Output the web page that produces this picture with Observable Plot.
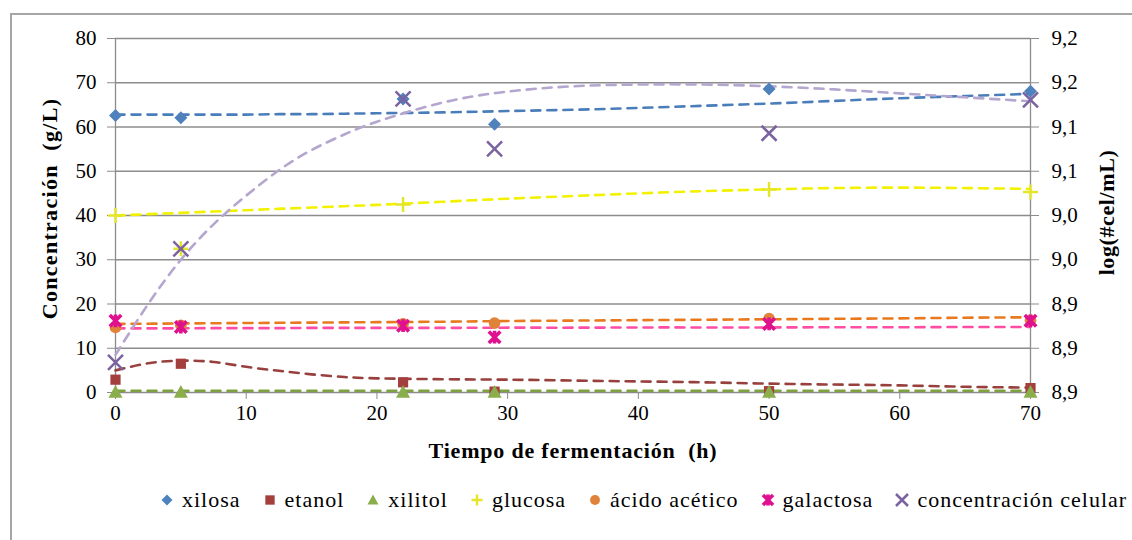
<!DOCTYPE html>
<html><head><meta charset="utf-8">
<script src="https://cdn.jsdelivr.net/npm/d3@7"></script>
<script src="https://cdn.jsdelivr.net/npm/@observablehq/plot@0.6"></script>
<style>
body{margin:0;background:#fff;font-family:"Liberation Serif","Times New Roman",Tinos,"DejaVu Serif",serif;}
#wrap{position:relative;width:1132px;height:540px;overflow:hidden;background:#fff;}
#frame{position:absolute;left:10px;top:13px;width:1300px;height:700px;border-top:2px solid #a6a6a6;border-left:2px solid #a6a6a6;}
#chart{position:absolute;left:0;top:0;}
#legend{position:absolute;top:487px;left:158px;display:flex;align-items:center;font-size:22px;letter-spacing:1px;color:#000;white-space:nowrap;}
#legend .it{display:flex;align-items:center;margin-right:20px;}
#legend svg{margin-right:6px;}
</style>
</head><body>
<div id="wrap"><div id="frame"></div><div id="chart"></div><div id="legend"></div></div>
<script>
const hours = [0, 5, 22, 29, 50, 70];
const xilosa = [62.6, 62.1, 66.3, 60.6, 68.6, 68.1];
const etanol = [2.9, 6.5, 2.3, 0.2, 0.3, 1.0];
const xilitol = [0.1, 0.1, 0.1, 0.1, 0.1, 0.1];
const glucosa = [40.0, 32.5, 42.5, null, 45.9, 45.3];
const acidoAcetico = [14.7, 15.2, 15.5, 15.7, 16.7, 16.3];
const galactosa = [16.2, 14.8, 15.1, 12.5, 15.5, 16.2];
const celular = [8.889, 8.998, 9.142, 9.094, 9.109, 9.141]; // log(#cel/mL), right axis

// ---- dashed trend lines ----
const trendHours = [0, 2.5, 5, 7.5, 10, 12.5, 15, 17.5, 20, 25, 30, 35, 40, 45, 50, 55, 60, 65, 70];
const xilosaTrend = [62.8, 62.8, 62.8, 62.8, 62.8, 62.9, 62.9, 63.0, 63.1, 63.3, 63.6, 63.9, 64.3, 64.8, 65.3, 65.9, 66.5, 67.0, 67.5];
const etanolTrend = [5.0, 6.6, 7.2, 6.9, 5.8, 4.9, 4.1, 3.5, 3.2, 3.0, 2.9, 2.7, 2.5, 2.3, 2.0, 1.8, 1.6, 1.3, 1.1];
const xilitolTrend = [0.4, 0.4, 0.4, 0.4, 0.4, 0.4, 0.4, 0.4, 0.4, 0.4, 0.4, 0.4, 0.4, 0.4, 0.4, 0.4, 0.4, 0.4, 0.4];
const glucosaTrend = [40.0, 40.3, 40.6, 40.9, 41.2, 41.5, 41.8, 42.1, 42.4, 43.1, 43.8, 44.4, 45.0, 45.5, 45.9, 46.2, 46.3, 46.2, 46.0];
const acidoAceticoTrend = [15.5, 15.55, 15.6, 15.65, 15.7, 15.75, 15.8, 15.85, 15.9, 16.0, 16.15, 16.25, 16.35, 16.45, 16.55, 16.65, 16.75, 16.9, 17.0];
const galactosaTrend = [14.5, 14.5, 14.5, 14.55, 14.55, 14.55, 14.6, 14.6, 14.6, 14.6, 14.65, 14.65, 14.7, 14.7, 14.7, 14.75, 14.75, 14.8, 14.8];
const celularTrend = [8.8961, 8.945, 8.9875, 9.0215, 9.0491, 9.0734, 9.0929, 9.1078, 9.1201, 9.1384, 9.149, 9.1541, 9.1558, 9.1558, 9.1541, 9.1511, 9.1473, 9.1435, 9.1397];

const seriesNames = ["xilosa", "etanol", "xilitol", "glucosa", "ácido acético", "galactosa", "concentración celular"];
const xTicks = [0, 10, 20, 30, 40, 50, 60, 70];
const yTicks = [0, 10, 20, 30, 40, 50, 60, 70, 80];
const rightTickLabels = ["8,9", "8,9", "8,9", "9,0", "9,0", "9,1", "9,1", "9,2", "9,2"];
const rightDomain = [8.86, 9.20];

// ---- styles ----
const markerColors = ["#4F81BD", "#A33F3C", "#8AAE4C", "#E5E52A", "#E0823A", "#E0118F", "#7B62A0"];
const lineColors = ["#4A7EBB", "#98403D", "#7FA140", "#F2F200", "#E8791E", "#FF4DA6", "#B5A6CF"];
const FONT = '"Liberation Serif","Times New Roman",Tinos,"DejaVu Serif",serif';

// right-axis values are placed on the left-axis (0–80) scale
const toLeft = v => (v - rightDomain[0]) / (rightDomain[1] - rightDomain[0]) * 80;

const allValues = [xilosa, etanol, xilitol, glucosa, acidoAcetico, galactosa, celular.map(toLeft)];
const allTrends = [xilosaTrend, etanolTrend, xilitolTrend, glucosaTrend, acidoAceticoTrend, galactosaTrend, celularTrend.map(toLeft)];
const points = [];
allValues.forEach((vals, s) => vals.forEach((v, i) => { if (v != null) points.push({series: s, x: hours[i], y: v}); }));
const trends = [];
allTrends.forEach((vals, s) => vals.forEach((v, i) => trends.push({series: s, x: trendHours[i], y: v})));

// ---- custom marker shapes ----
function sym(draw) { return {draw(ctx, size) { draw(ctx, Math.sqrt(size / Math.PI)); }}; }
const symbols = [
  sym((c, r) => { c.moveTo(0, -r); c.lineTo(r, 0); c.lineTo(0, r); c.lineTo(-r, 0); c.closePath(); }),
  sym((c, r) => { c.rect(-r * 0.85, -r * 0.85, r * 1.7, r * 1.7); }),
  sym((c, r) => { c.moveTo(0, -r); c.lineTo(r, r * 0.8); c.lineTo(-r, r * 0.8); c.closePath(); }),
  sym((c, r) => { c.moveTo(-r, 0); c.lineTo(r, 0); c.moveTo(0, -r); c.lineTo(0, r); }),
  sym((c, r) => { c.moveTo(r * 0.9, 0); c.arc(0, 0, r * 0.9, 0, 2 * Math.PI); }),
  sym((c, r) => { const a = r * 0.72; c.moveTo(-a, -a); c.lineTo(a, a); c.moveTo(a, -a); c.lineTo(-a, a); c.moveTo(0, -r * 0.8); c.lineTo(0, r * 0.8); }),
  sym((c, r) => { const a = r * 0.75; c.moveTo(-a, -a); c.lineTo(a, a); c.moveTo(a, -a); c.lineTo(-a, a); })
];
const filled = [true, true, true, false, true, false, false];
const sizes = [6.5, 6, 7, 7.5, 6.5, 8, 10];
const strokeW = [0, 0, 0, 2.5, 0, 3.6, 2.5];

const marks = [
  Plot.gridY(yTicks, {stroke: "#8c8c8c", strokeOpacity: 1, strokeWidth: 1.3}),
  Plot.ruleX([0, 70], {stroke: "#8c8c8c", strokeWidth: 1.3}),
  Plot.axisY(yTicks, {anchor: "left", tickSize: 8, tickPadding: 11, label: null, stroke: "#8c8c8c", fontSize: 21}),
  Plot.axisY(yTicks, {anchor: "right", tickSize: 8, tickPadding: 13, label: null, stroke: "#8c8c8c", fontSize: 21,
    tickFormat: d => rightTickLabels[yTicks.indexOf(d)]}),
  Plot.axisX(xTicks, {anchor: "bottom", tickSize: 7, tickPadding: 6, label: null, stroke: "#8c8c8c", fontSize: 21}),
  Plot.text(["Concentración  (g/L)"], {frameAnchor: "left", textAnchor: "middle", rotate: -90, dx: -66, dy: -7, fontWeight: "bold", fontSize: 22, text: d => d}),
  Plot.text(["log(#cel/mL)"], {frameAnchor: "right", textAnchor: "middle", rotate: -90, dx: 76, dy: -3, fontWeight: "bold", fontSize: 22, text: d => d}),
  Plot.text(["Tiempo de fermentación  (h)"], {frameAnchor: "bottom", textAnchor: "middle", dy: 65, fontWeight: "bold", fontSize: 22, text: d => d})
];
seriesNames.forEach((name, s) => {
  marks.push(Plot.line(trends.filter(d => d.series === s), {x: "x", y: "y", curve: "natural", stroke: lineColors[s], strokeWidth: 2.6, strokeDasharray: "9,7"}));
});
seriesNames.forEach((name, s) => {
  marks.push(Plot.dot(points.filter(d => d.series === s), {x: "x", y: "y", symbol: symbols[s], r: sizes[s],
    fill: filled[s] ? markerColors[s] : "none", stroke: filled[s] ? "none" : markerColors[s], strokeWidth: strokeW[s]}));
});

const chart = Plot.plot({
  width: 1132, height: 470,
  marginLeft: 115, marginRight: 102, marginTop: 38, marginBottom: 78,
  x: {domain: [0, 70]},
  y: {domain: [0, 80]},
  style: {fontFamily: FONT, color: "#000", background: "transparent", overflow: "visible"},
  marks
});
document.getElementById("chart").appendChild(chart);
const sel = d3.select(chart);
sel.selectAll("text").style("font-family", FONT).style("font-variant", "normal");
// letter spacing of the axis titles, as in the reference
sel.selectAll("text").filter(function() { return this.textContent.startsWith("Concentración"); }).style("letter-spacing", "1.3px");
sel.selectAll("text").filter(function() { return this.textContent.startsWith("log("); }).style("letter-spacing", "0.6px");
sel.selectAll("text").filter(function() { return this.textContent.startsWith("Tiempo"); }).style("letter-spacing", "0.8px");

// ---- legend ----
const legend = document.getElementById("legend");
seriesNames.forEach((name, s) => {
  const it = document.createElement("div"); it.className = "it";
  const svg = d3.create("svg").attr("width", 18).attr("height", 18);
  const p = d3.path(); symbols[s].draw(p, Math.PI * (s === 6 ? 8 : s === 5 ? 7 : 5.5) ** 2);
  svg.append("path").attr("transform", "translate(9,9)").attr("d", p.toString())
    .attr("fill", filled[s] ? markerColors[s] : "none").attr("stroke", filled[s] ? "none" : markerColors[s])
    .attr("stroke-width", strokeW[s]);
  it.appendChild(svg.node());
  const t = document.createElement("span"); t.textContent = name; it.appendChild(t);
  legend.appendChild(it);
});
</script>
</body></html>
